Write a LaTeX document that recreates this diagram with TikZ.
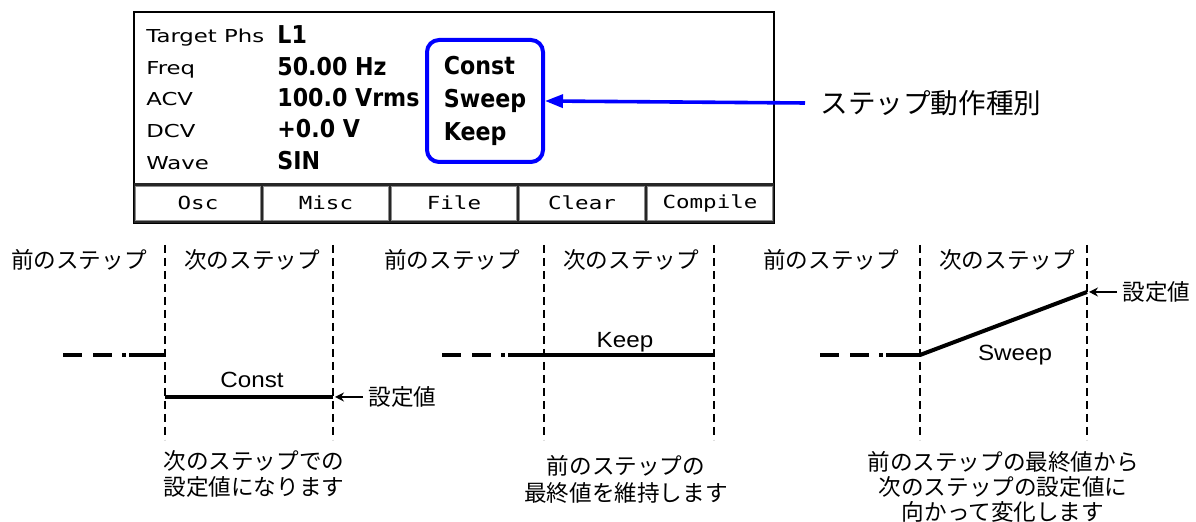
\documentclass[tikz,border=0pt]{standalone}
\usepackage{fontspec}
\setmainfont{Liberation Sans}
\newfontfamily\jpfont{Noto Sans CJK JP}
\newfontfamily\lcdfont[FakeStretch=1.28]{DejaVu Sans}
\newfontfamily\lcdbold[FakeStretch=0.9]{DejaVu Sans}
\newfontfamily\keyfont[FakeStretch=1.25]{DejaVu Sans Mono}
\newfontfamily\valfont[FakeStretch=1.1]{Liberation Sans}
\usetikzlibrary{arrows.meta,positioning}
\tikzset{
  lcdlabel/.style = {anchor=base west, inner sep=0pt, font=\lcdfont\fontsize{8.9}{10}\selectfont},
  lcdvalue/.style = {anchor=base west, inner sep=0pt, font=\lcdbold\bfseries\fontsize{12.3}{14}\selectfont},
  keybox/.style   = {rectangle, draw=black!45, fill=white, minimum width=62.5pt, minimum height=17pt,
                     inner sep=0pt, font=\keyfont\fontsize{9}{10}\selectfont},
  modebox/.style  = {rectangle, rounded corners=6pt, draw=blue, line width=2pt, minimum width=58pt,
                     minimum height=61pt, align=left, inner sep=0pt,
                     font=\lcdbold\bfseries\fontsize{12.3}{16.5}\selectfont},
  jptext/.style   = {inner sep=0pt, font=\jpfont\fontsize{11.3}{13}\selectfont},
  valtext/.style  = {inner sep=0pt, anchor=base, font=\valfont\fontsize{11}{12}\selectfont},
  guide/.style    = {dash pattern=on 4pt off 2.5pt, line width=0.8pt},
  level/.style    = {line width=2pt},
  prevlvl/.style  = {line width=2pt, dash pattern=on 9.5pt off 5.5pt on 9.5pt off 5pt on 2pt off 1.5pt on 40pt off 1pt},
  ar/.style       = {-{Stealth[length=4.5pt,width=4.5pt]}, line width=0.8pt, shorten >=1pt},
  bluear/.style   = {-{Triangle[length=9pt,width=6.5pt]}, draw=blue, line width=1.8pt}
}
\begin{document}
\begin{tikzpicture}[x=0.5pt, y=-0.5pt]
  \useasboundingbox (0,0) rectangle (1196,522);
  \draw[line width=0.8pt] (134,12) rectangle (774,223);
  \fill[black!85] (134,183) rectangle (774,223);
  \node[lcdlabel] (tgt)  at (146,43)  {Target Phs};
  \node[lcdlabel] (freq) at (146,75)  {Freq};
  \node[lcdlabel] (acv)  at (146,106) {ACV};
  \node[lcdlabel] (dcv)  at (146,138) {DCV};
  \node[lcdlabel] (wave) at (146,170) {Wave};
  \node[lcdvalue] (tgtv)  at (277,44)  {L1};
  \node[lcdvalue] (freqv) at (277,76)  {50.00 Hz};
  \node[lcdvalue] (acvv)  at (277,107) {100.0 Vrms};
  \node[lcdvalue] (dcvv)  at (277,138) {+0.0 V};
  \node[lcdvalue] (wavev) at (277,170) {SIN};
  \node[modebox] (mode) at (485,101) {Const\\Sweep\\Keep};
  \node[keybox] (osc)  at (198,203) {Osc};
  \node[keybox] (misc) at (326,203) {Misc};
  \node[keybox] (file) at (454,203) {File};
  \node[keybox] (clr)  at (582,203) {Clear};
  \node[keybox] (comp) at (710,203) {Compile};
  \node[jptext, inner xsep=7.5pt, anchor=west, font=\jpfont\fontsize{13.8}{15}\selectfont] (kind) at (805,103) {ステップ動作種別};
  \draw[bluear] (kind.west) -- (mode.east);

  \draw[guide] (165,245) -- (165,440);
  \draw[guide] (333,245) -- (333,440);
  \node[jptext] (c1) at (79,260) {前のステップ};
  \node[jptext] (c2) at (252,260) {次のステップ};
  \draw[prevlvl] (63,355) -- (165,355);
  \draw[level] (165,397) -- (333,397);
  \coordinate (cend) at (333,397);
  \node[valtext] (cval) at (252,388) {Const};
  \node[jptext, inner xsep=2.5pt, anchor=west] (cset) at (363,397) {設定値};
  \draw[ar] (cset.west) -- (cend);
  \node[jptext, align=left, anchor=west] (cnote) at (163,474) {次のステップでの\\設定値になります};

  \draw[guide] (544,245) -- (544,440);
  \draw[guide] (714,245) -- (714,440);
  \node[jptext] (k1) at (452,260) {前のステップ};
  \node[jptext] (k2) at (631,260) {次のステップ};
  \draw[prevlvl] (442,355) -- (544,355);
  \draw[level] (544,355) -- (714,355);
  \node[valtext] (kval) at (625,348) {Keep};
  \node[jptext, align=center, font=\jpfont\fontsize{11.3}{13.5}\selectfont] (knote) at (626,479) {前のステップの\\最終値を維持します};

  \draw[guide] (920,245) -- (920,440);
  \draw[guide] (1087,245) -- (1087,440);
  \node[jptext] (s1) at (831,260) {前のステップ};
  \node[jptext] (s2) at (1007,260) {次のステップ};
  \draw[prevlvl] (820,355) -- (920,355);
  \draw[level] (920,355) -- (1087,292);
  \coordinate (send) at (1087,292);
  \node[valtext] (sval) at (1015,361) {Sweep};
  \node[jptext, inner xsep=2.5pt, anchor=west] (sset) at (1117,292) {設定値};
  \draw[ar] (sset.west) -- (send);
  \node[jptext, align=center, font=\jpfont\fontsize{11.3}{12.5}\selectfont] (snote) at (1003,487) {前のステップの最終値から\\次のステップの設定値に\\向かって変化します};
\end{tikzpicture}
\end{document}
